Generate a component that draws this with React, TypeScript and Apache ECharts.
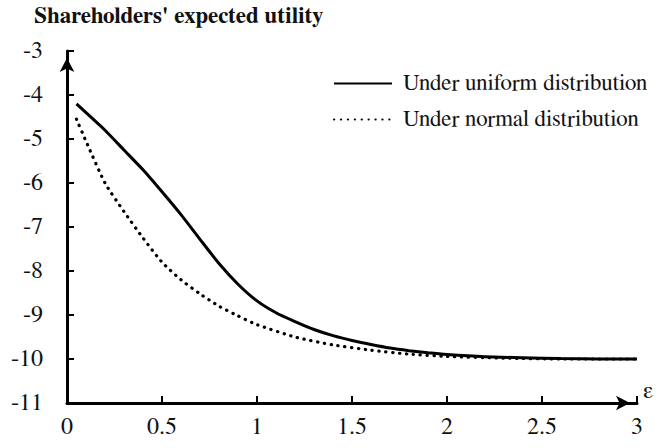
import React, { useEffect, useRef } from "react";
import * as echarts from "echarts";

const titleText = "Shareholders' expected utility";
const seriesNames = ["Under uniform distribution", "Under normal distribution"];

const uniformX = [0.05, 0.1, 0.2, 0.3, 0.4, 0.5, 0.6, 0.7, 0.8, 0.9, 1.0, 1.1, 1.2, 1.3, 1.4, 1.5, 1.6, 1.7, 1.8, 1.9, 2.0, 2.2, 2.4, 2.6, 2.8, 3.0];
const uniformY = [-4.2, -4.4, -4.8, -5.25, -5.7, -6.2, -6.72, -7.28, -7.83, -8.3, -8.68, -8.95, -9.15, -9.33, -9.47, -9.58, -9.67, -9.75, -9.81, -9.86, -9.9, -9.95, -9.97, -9.99, -10, -10];

const normalX = [0.05, 0.1, 0.2, 0.3, 0.4, 0.5, 0.6, 0.7, 0.8, 0.9, 1.0, 1.2, 1.4, 1.6, 1.8, 2.0, 2.3, 2.6, 3.0];
const normalY = [-4.55, -5.05, -6.0, -6.65, -7.25, -7.8, -8.2, -8.52, -8.8, -9.02, -9.22, -9.5, -9.68, -9.8, -9.89, -9.94, -9.98, -10, -10];

const xMin = 0, xMax = 3, xStep = 0.5;
const yMin = -11, yMax = -3, yStep = 1;
const xAxisName = "ε";

const FONT = "FreeSerif, 'Liberation Serif', 'Times New Roman', serif";

export default function App() {
  const ref = useRef<HTMLDivElement>(null);
  useEffect(() => {
    if (!ref.current) return;
    const chart = echarts.init(ref.current, null, { renderer: "svg" });
    const toPairs = (xs: number[], ys: number[]) => xs.map((x, i) => [x, ys[i]]);
    const axisCommon = {
      axisLine: {
        show: true,
        symbol: ["none", "arrow"],
        symbolSize: [11, 14],
        symbolOffset: [0, -7],
        lineStyle: { color: "#000", width: 3 },
      },
      axisTick: { show: true, inside: true, length: 7, lineStyle: { color: "#000", width: 2 } },
      splitLine: { show: false },
    };
    chart.setOption({
      animation: false,
      backgroundColor: "#fff",
      textStyle: { fontFamily: FONT },
      title: {
        text: titleText,
        left: 34,
        top: 3,
        padding: 0,
        textStyle: { fontFamily: FONT, fontSize: 23, fontWeight: "bold", color: "#111", lineHeight: 26 },
      },
      legend: {
        orient: "vertical",
        left: 333,
        top: 72,
        padding: 0,
        itemWidth: 58,
        itemHeight: 14,
        itemGap: 13,
        itemStyle: { opacity: 0 },
        textStyle: { fontFamily: FONT, fontSize: 23, color: "#111", padding: [0, 0, 0, 6] },
        data: seriesNames,
      },
      grid: { left: 67, right: 23, top: 51, bottom: 45, containLabel: false },
      xAxis: {
        type: "value",
        min: xMin,
        max: xMax,
        interval: xStep,
        name: xAxisName,
        nameLocation: "end",
        nameGap: 6,
        nameTextStyle: { fontFamily: FONT, fontSize: 24, color: "#111", verticalAlign: "bottom" },
        ...axisCommon,
        axisLabel: { fontFamily: FONT, fontSize: 24, color: "#111", margin: 12 },
      },
      yAxis: {
        type: "value",
        min: yMin,
        max: yMax,
        interval: yStep,
        ...axisCommon,
        axisLabel: { fontFamily: FONT, fontSize: 24, color: "#111", margin: 24 },
      },
      series: [
        {
          name: seriesNames[0],
          type: "line",
          data: toPairs(uniformX, uniformY),
          smooth: 0.2,
          symbol: "none",
          lineStyle: { color: "#000", width: 3 },
          itemStyle: { color: "#000" },
        },
        {
          name: seriesNames[1],
          type: "line",
          data: toPairs(normalX, normalY),
          smooth: 0.2,
          symbol: "none",
          lineStyle: { color: "#000", width: 3.2, type: [0.3, 6.6], cap: "round" },
          itemStyle: { color: "#000" },
        },
      ],
    });
    return () => chart.dispose();
  }, []);
  return (
    <div
      ref={ref}
      style={{ position: "fixed", left: 0, top: 0, width: 660, height: 448, background: "#fff" }}
    />
  );
}
